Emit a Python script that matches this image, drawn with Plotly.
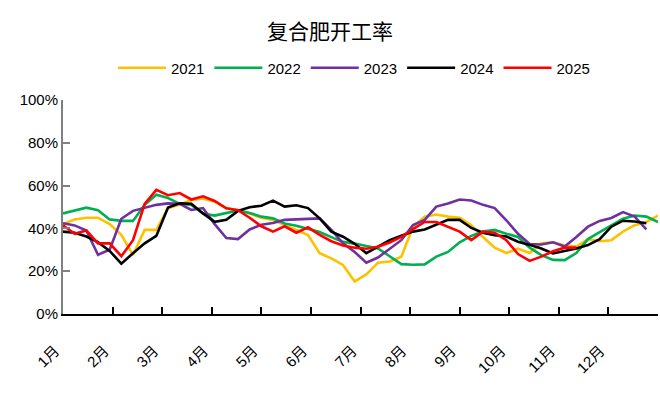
import plotly.graph_objects as go

title_text = "复合肥开工率"
months = ["1月", "2月", "3月", "4月", "5月", "6月", "7月", "8月", "9月", "10月", "11月", "12月"]
years = ["2021", "2022", "2023", "2024", "2025"]
colors = ["#FFC000", "#00B050", "#7030A0", "#000000", "#FF0000"]
y_ticks = [0, 20, 40, 60, 80, 100]
y_labels = ["0%", "20%", "40%", "60%", "80%", "100%"]

v2021 = [42, 44.2, 45, 45, 42, 37, 27.6, 39.3, 39.3, 49.4,
         51.2, 53.3, 54, 52.5, 49.4, 48.6, 47, 45, 43.9, 41.6,
         39.3, 36.9, 28.4, 26, 22.9, 15.2, 18.5, 24, 24.5, 26.8,
         40.8, 45.5, 46.5, 45.5, 45, 41.5, 36, 31, 28.5, 30.5,
         28.5, 33, 33.5, 32, 31.5, 35, 34, 34.5, 38.5, 41.5,
         43, 46]
v2022 = [47, 48.3, 49.7, 48.5, 44.2, 43.5, 43.5, 51, 55.7, 54.2,
         51.5, 51, 47, 46, 47.2, 48.4, 47.2, 45.5, 44.7, 42.3,
         41.2, 39.9, 38.3, 35.9, 33.7, 32.9, 31.6, 30.6, 27, 23.3,
         23, 23.2, 26.8, 29, 33.5, 36.5, 38.5, 39.3, 37.5, 36,
         31, 27.5, 25.3, 25.2, 28.5, 35, 38.3, 41.5, 44.5, 46,
         45.5, 43]
v2023 = [42.4, 41.4, 39, 27.7, 30, 44.5, 48.2, 49.7, 51, 51.7,
         51.5, 48.6, 49.5, 42, 35.5, 35, 39.5, 41.7, 42.5, 44,
         44.2, 44.2, 44.7, 39.3, 33, 29, 24, 26.4, 30.5, 34.5,
         41.6, 44, 50.2, 51.6, 53.5, 53, 51, 49.5, 43.8, 37.5,
         32.7, 32.5, 33.5, 31.5, 36, 40.8, 43.5, 44.9, 47.6, 45.5,
         39.5]
v2024 = [38.5, 38, 36.2, 33.6, 29.5, 23.5, 28.4, 33, 36.5, 49.8,
         51.7, 51.5, 47, 43.1, 44, 48.2, 49.9, 50.6, 53, 50.2,
         50.8, 49.5, 44.7, 38.5, 36.1, 32.8, 28.4, 31.4, 34.5, 36.6,
         38.5, 39.5, 41.7, 44, 44, 40.2, 38, 36.8, 36.2, 33.8,
         32.3, 30.6, 28.3, 29.3, 30.6, 32.2, 35, 40.8, 43.6, 43.2,
         42.4]
v2025 = [41.5, 37.5, 39, 33, 33, 27, 34.5, 51.5, 58, 55.5,
         56.5, 53.5, 55, 52.8, 49.4, 48.5, 45, 41, 38.5, 41,
         38, 40.5, 37, 34, 32, 31, 30.5, 31.4, 33.4, 36,
         39.7, 43, 43, 40.8, 38.5, 34.5, 38.5, 38, 34.5, 28,
         24.8, 26.8, 29.3, 31, 31]
series = [v2021, v2022, v2023, v2024, v2025]

WEEKS = 51  # x span in weeks
fig = go.Figure()
for name, vals, col in zip(years, series, colors):
    fig.add_trace(go.Scatter(
        x=list(range(len(vals))), y=vals, name=name, mode="lines",
        line=dict(color=col, width=2.6), hoverinfo="skip"))

tickvals = [k * WEEKS / 12 for k in range(13)]
ticktext = months + [""]

fig.update_layout(
    width=660, height=395,
    margin=dict(l=63, r=2, t=100, b=81),
    paper_bgcolor="white", plot_bgcolor="white",
    font=dict(family="Liberation Sans, Arial, sans-serif", size=15, color="#000000"),
    title=dict(text=title_text, x=0.5, xref="container", xanchor="center",
               y=1 - 32 / 395, yref="container", yanchor="middle",
               font=dict(family="Noto Sans CJK SC", size=21, color="#000000")),
    showlegend=True,
    legend=dict(orientation="h", x=0.5 * (118 + 590) / 660, xref="container", xanchor="center",
                y=1 - 68 / 395, yref="container", yanchor="middle",
                font=dict(size=15), itemwidth=48, traceorder="normal",
                bgcolor="rgba(0,0,0,0)"),
    xaxis=dict(range=[0, WEEKS], tickmode="array", tickvals=tickvals, ticktext=ticktext,
               showgrid=False, zeroline=False, showline=True, linecolor="#000000", linewidth=2,
               ticks="inside", ticklen=7, tickwidth=1.5, tickcolor="#000000",
               tickangle=-45, tickfont=dict(size=15, family="Liberation Sans, Noto Sans CJK SC"),
               ticklabelstandoff=20, ticklabelshift=-8),
    yaxis=dict(range=[0, 100], tickmode="array", tickvals=y_ticks, ticktext=y_labels,
               showgrid=False, zeroline=False, showline=True,
               linecolor="#808080", linewidth=2, ticks="inside", ticklen=7,
               tickwidth=1.5, tickcolor="#808080", tickfont=dict(size=15)),
)

fig.write_html("out.html")
